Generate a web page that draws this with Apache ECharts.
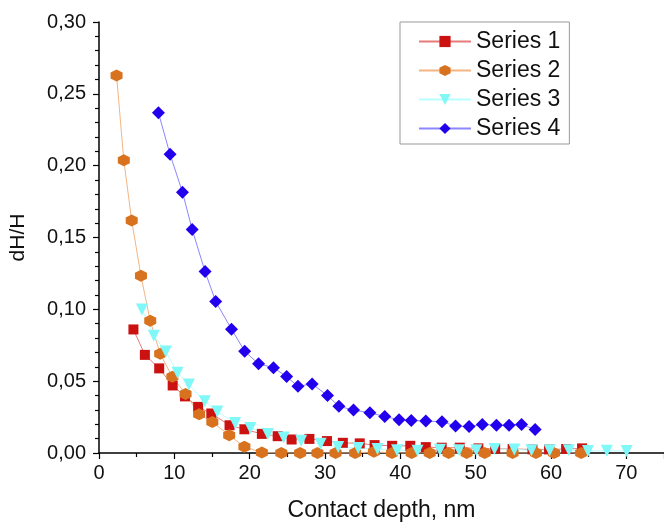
<!DOCTYPE html>
<html>
<head>
<meta charset="utf-8">
<script src="https://cdn.jsdelivr.net/npm/echarts@6/dist/echarts.min.js"></script>
<style>
  html, body { margin: 0; padding: 0; background: #fff; }
  #chart { width: 664px; height: 527px; }
</style>
</head>
<body>
<div id="chart"></div>
<script>
// values
const s1X = [4.57, 6.09, 7.99, 9.78, 11.41, 13.16, 14.91, 17.33, 19.3, 21.62, 23.72, 25.57, 27.93, 30.26, 32.37, 34.61, 36.58, 38.91, 41.32, 43.38, 45.49, 47.89, 50.36, 52.59, 54.91, 57.54, 59.74, 62.01, 64.12];
const s1Y = [0.086, 0.0683, 0.0589, 0.047, 0.0394, 0.0321, 0.0275, 0.0193, 0.0165, 0.0133, 0.0117, 0.0094, 0.0098, 0.0083, 0.0071, 0.0067, 0.0055, 0.005, 0.005, 0.0041, 0.0037, 0.0037, 0.0032, 0.003, 0.0028, 0.0025, 0.0025, 0.0028, 0.0032];

const s2X = [2.33, 3.29, 4.34, 5.57, 6.8, 8.12, 9.74, 11.49, 13.29, 15.04, 17.28, 19.3, 21.62, 24.2, 26.7, 29.0, 31.4, 34.0, 36.5, 38.9, 41.5, 43.9, 46.4, 48.8, 51.2, 54.9, 58.0, 60.4, 64.0];
const s2Y = [0.2627, 0.2038, 0.1618, 0.1233, 0.092, 0.069, 0.053, 0.0411, 0.027, 0.0215, 0.0124, 0.0043, 0.0003, 0, 0, 0, 0, 0, 0.0008, 0, 0, 0, 0, 0, 0, 0, 0, 0, 0];

const s3X = [5.7, 7.28, 8.86, 10.43, 11.93, 14.04, 15.7, 18.07, 20.09, 22.41, 24.51, 26.84, 29.42, 31.75, 34.41, 36.97, 39.57, 42.28, 45.26, 47.8, 50.09, 52.5, 55.13, 57.41, 59.83, 62.37, 64.91, 67.41, 70.04];
const s3Y = [0.0999, 0.0816, 0.0706, 0.0559, 0.0477, 0.036, 0.0289, 0.0208, 0.0174, 0.0133, 0.0108, 0.0085, 0.0064, 0.0041, 0.0034, 0.0028, 0.0019, 0.0016, 0.0023, 0.0019, 0.0019, 0.0028, 0.0025, 0.0019, 0.0019, 0.0019, 0.0014, 0.0016, 0.0014];

const s4X = [7.89, 9.43, 11.08, 12.37, 14.08, 15.49, 17.59, 19.34, 21.18, 23.16, 24.91, 26.41, 28.29, 30.33, 31.84, 33.78, 35.96, 37.93, 39.83, 41.45, 43.38, 45.53, 47.33, 49.12, 50.88, 52.76, 54.43, 56.09, 57.89];
const s4Y = [0.2368, 0.2079, 0.1815, 0.1556, 0.1263, 0.1054, 0.0862, 0.0708, 0.0621, 0.0594, 0.0532, 0.0464, 0.0481, 0.04, 0.0325, 0.0299, 0.028, 0.0254, 0.0232, 0.0227, 0.0222, 0.0218, 0.0188, 0.0184, 0.0199, 0.0193, 0.0193, 0.0199, 0.0163];

const seriesNames = ['Series 1', 'Series 2', 'Series 3', 'Series 4'];
const xTicks = [0, 10, 20, 30, 40, 50, 60, 70];

const hexagon = 'path://M0,-1 L0.866,-0.5 L0.866,0.5 L0,1 L-0.866,0.5 L-0.866,-0.5 Z';

const zip = (xs, ys) => xs.map((x, i) => [x, ys[i]]);

const makeSeries = (name, data, symbol, size, color, lineColor) => ({
  name,
  type: 'line',
  data,
  symbol,
  symbolSize: size,
  itemStyle: { color },
  lineStyle: { color: lineColor, width: 1 },
  emphasis: { disabled: true },
  animation: false,
});

const chart = echarts.init(document.getElementById('chart'));
chart.setOption({
  backgroundColor: '#fff',
  textStyle: { fontFamily: 'Liberation Sans, Arial, sans-serif' },
  grid: { left: 96, top: 22, width: 570, height: 436, containLabel: false },
  legend: {
    left: 400,
    top: 22,
    orient: 'vertical',
    data: seriesNames,
    itemWidth: 52,
    itemHeight: 14,
    itemGap: 6,
    padding: [8, 9, 4, 18],
    borderColor: '#999',
    borderWidth: 1,
    textStyle: { fontSize: 23, color: '#111', lineHeight: 22 },
  },
  xAxis: {
    type: 'value',
    min: 0,
    max: 75,
    interval: 10,
    name: 'Contact depth, nm',
    nameLocation: 'middle',
    nameGap: 46,
    nameTextStyle: { fontSize: 23, color: '#111' },
    axisLine: { lineStyle: { color: '#000', width: 1.5 } },
    axisTick: { length: 6, lineStyle: { color: '#000', width: 1.2 } },
    minorTick: { show: true, splitNumber: 2, length: 4, lineStyle: { color: '#000', width: 1.2 } },
    splitLine: { show: false },
    axisLabel: {
      fontSize: 20,
      color: '#111',
      margin: 10,
      showMaxLabel: false,
      formatter: v => (xTicks.indexOf(v) >= 0 ? String(v) : ''),
    },
  },
  yAxis: {
    type: 'value',
    min: 0,
    max: 0.3,
    interval: 0.05,
    name: 'dH/H',
    nameLocation: 'middle',
    nameGap: 70,
    nameTextStyle: { fontSize: 21, color: '#111' },
    axisLine: { show: true, lineStyle: { color: '#000', width: 1.5 } },
    axisTick: { show: true, length: 6, lineStyle: { color: '#000', width: 1.2 } },
    minorTick: { show: true, splitNumber: 5, length: 4, lineStyle: { color: '#000', width: 1.2 } },
    splitLine: { show: false },
    axisLabel: {
      fontSize: 20,
      color: '#111',
      margin: 13,
      formatter: v => v.toFixed(2).replace('.', ','),
    },
  },
  series: [
    makeSeries(seriesNames[0], zip(s1X, s1Y), 'rect', 10, '#cc1111', '#e77a7a'),
    makeSeries(seriesNames[1], zip(s2X, s2Y), hexagon, 12, '#d8721e', '#f2b583'),
    makeSeries(seriesNames[2], zip(s3X, s3Y), 'triangle', 12, '#80f8f8', '#b8ffff'),
    makeSeries(seriesNames[3], zip(s4X, s4Y), 'diamond', 13, '#2200ee', '#8c86ff'),
  ].map((s, i) => (i === 2 ? { ...s, symbolRotate: 180 } : s)),
});
</script>
</body>
</html>
